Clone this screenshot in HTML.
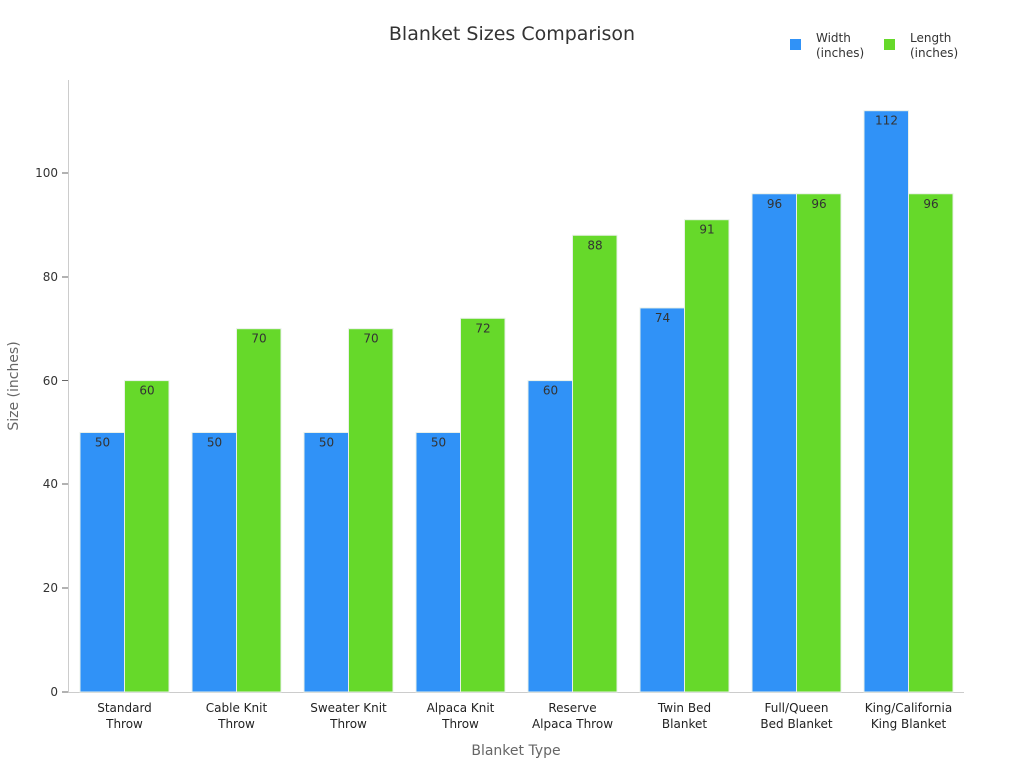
<!DOCTYPE html>
<html><head><meta charset="utf-8"><style>body{margin:0;background:#fff}svg{display:block}text{font-family:"DejaVu Sans","Liberation Sans",sans-serif}</style></head><body>
<svg width="1024" height="768" viewBox="0 0 1024 768">
<text x="512" y="40" text-anchor="middle" font-size="19" fill="#333">Blanket Sizes Comparison</text>
<rect x="790" y="39" width="11" height="11" fill="#3092f7"/>
<text x="816" y="42" font-size="12" fill="#333">Width</text><text x="816" y="57" font-size="12" fill="#333">(inches)</text>
<rect x="884" y="39" width="11" height="11" fill="#66d92a"/>
<text x="910" y="42" font-size="12" fill="#333">Length</text><text x="910" y="57" font-size="12" fill="#333">(inches)</text>
<line x1="68.5" y1="80" x2="68.5" y2="692" stroke="#ccc"/>
<line x1="68" y1="692.5" x2="964" y2="692.5" stroke="#ccc"/>
<g font-size="12" fill="#333" text-anchor="end">
<text x="58" y="696">0</text><text x="58" y="592">20</text><text x="58" y="488">40</text><text x="58" y="385">60</text><text x="58" y="281">80</text><text x="58" y="177">100</text>
</g>
<g stroke="#666"><line x1="62" x2="68" y1="692" y2="692"/><line x1="62" x2="68" y1="588" y2="588"/><line x1="62" x2="68" y1="484" y2="484"/><line x1="62" x2="68" y1="380.5" y2="380.5"/><line x1="62" x2="68" y1="277" y2="277"/><line x1="62" x2="68" y1="173" y2="173"/></g>
<text transform="translate(18,386) rotate(-90)" text-anchor="middle" font-size="14" fill="#666">Size (inches)</text>
<text x="516" y="755" text-anchor="middle" font-size="14" fill="#666">Blanket Type</text>
<g id="bars" stroke="#e8f0e8" stroke-width="1"></g>
<g id="labels" font-size="12" fill="#333" text-anchor="middle"></g>
<g id="xl" font-size="12" fill="#222" text-anchor="middle"></g>
</svg>
<script>
var w=[50,50,50,50,60,74,96,112],l=[60,70,70,72,88,91,96,96];
var n=[["Standard","Throw"],["Cable Knit","Throw"],["Sweater Knit","Throw"],["Alpaca Knit","Throw"],["Reserve","Alpaca Throw"],["Twin Bed","Blanket"],["Full/Queen","Bed Blanket"],["King/California","King Blanket"]];
var b="",t="",x="";
function Y(v){return 692-5.19*v}
for(var i=0;i<8;i++){var bx=80+112*i,gx=124.5+112*i;
b+='<rect x="'+bx+'" y="'+Y(w[i])+'" width="44.5" height="'+(5.19*w[i])+'" fill="#3092f7"/>';
b+='<rect x="'+gx+'" y="'+Y(l[i])+'" width="44.5" height="'+(5.19*l[i])+'" fill="#66d92a"/>';
t+='<text x="'+(bx+22.5)+'" y="'+(Y(w[i])+14)+'">'+w[i]+'</text><text x="'+(gx+22.5)+'" y="'+(Y(l[i])+14)+'">'+l[i]+'</text>';
var c=124.5+112*i;x+='<text x="'+c+'" y="712">'+n[i][0]+'</text><text x="'+c+'" y="728">'+n[i][1]+'</text>';}
document.getElementById('bars').innerHTML=b;document.getElementById('labels').innerHTML=t;document.getElementById('xl').innerHTML=x;
</script>
</body></html>
